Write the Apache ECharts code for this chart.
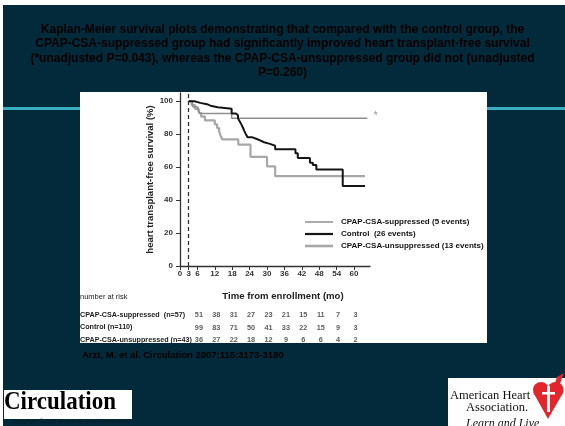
<!DOCTYPE html>
<html>
<head>
<meta charset="utf-8">
<script src="https://cdn.jsdelivr.net/npm/echarts@6/dist/echarts.min.js"></script>
<style>
  html, body { margin: 0; padding: 0; background: #022a3a; overflow: hidden; width: 100%; height: 100%; }
  #chart { width: 100%; height: 100%; min-width: 565px; min-height: 426px; }
</style>
</head>
<body>
<div id="chart"></div>
<script>
// Axis ticks
const xTicks = [0, 3, 6, 12, 18, 24, 30, 36, 42, 48, 54, 60];
const yTicks = [0, 20, 40, 60, 80, 100];

// Kaplan-Meier steps: [month, survival % after the event]
const suppressed = [[3, 100], [4.3, 98.2], [4.5, 96.5], [6.2, 94.7], [6.8, 92.5], [17.8, 89.6], [64.6, 89.6]];
const control = [[3, 100], [5, 99], [7, 98.2], [9.3, 97.3], [10.5, 96.4], [13, 95.5], [17.8, 92.5],
  [19.3, 91.5], [20, 89.6], [20.6, 87.7], [21.2, 85.8], [21.7, 83.9], [22.2, 81.9], [22.7, 80],
  [23.3, 78.1], [25, 77.1], [26.5, 76.1], [27.8, 75.1], [29, 74.1], [31, 73], [32.8, 70.8],
  [39.8, 68.4], [40.6, 65.5], [44.8, 62.6], [45.8, 61.3], [47, 58.5], [56.1, 48.5], [63.8, 48.5]];
const unsuppressed = [[3, 100], [4, 97.7], [5.2, 95.3], [6.5, 93], [7.3, 90.7], [8.6, 88.4], [12, 86],
  [12.8, 83.7], [13.5, 81.4], [14, 79.1], [14.6, 76.8], [20.1, 73.7], [24.3, 66.2], [30, 60.5],
  [32.8, 54.5], [63.8, 54.5]];

const seriesNames = ['CPAP-CSA-suppressed (5 events)', 'Control  (26 events)', 'CPAP-CSA-unsuppressed (13 events)'];

// Number at risk table
const riskMonths = [6, 12, 18, 24, 30, 36, 42, 48, 54, 60];
const riskRows = ['CPAP-CSA-suppressed  (n=57)', 'Control (n=110)', 'CPAP-CSA-unsuppressed (n=43)'];
const riskSuppressed = [51, 38, 31, 27, 23, 21, 15, 11, 7, 3];
const riskControl = [99, 83, 71, 50, 41, 33, 22, 15, 9, 3];
const riskUnsuppressed = [36, 27, 22, 18, 12, 9, 6, 6, 4, 2];

const titleLines = [
  'Kaplan-Meier survival plots demonstrating that compared with the control group, the',
  'CPAP-CSA-suppressed group had significantly improved heart transplant-free survival',
  '(*unadjusted P=0.043), whereas the CPAP-CSA-unsuppressed group did not (unadjusted',
  'P=0.260)'
];

const SANS = "'Liberation Sans', Arial, Helvetica, sans-serif";
const SERIF = "'Liberation Serif', 'Times New Roman', serif";

const colSup = '#8e8e8e', colCtl = '#151515', colUns = '#a8a8a8';

const chart = echarts.init(document.getElementById('chart'), null, { renderer: 'canvas' });

function riskSeries(values, row) {
  return {
    type: 'scatter',
    xAxisIndex: 1,
    yAxisIndex: 1,
    silent: true,
    symbolSize: 1,
    itemStyle: { color: 'rgba(0,0,0,0)' },
    data: riskMonths.map((m, i) => [m, row, values[i]]),
    label: {
      show: true,
      position: 'inside',
      offset: [1.5, 0],
      formatter: p => String(p.value[2]),
      fontFamily: SANS,
      fontSize: 7.3,
      fontWeight: 'bold',
      color: '#333'
    }
  };
}

// one legend block per curve so each key line keeps its own thickness
function legendRow(name, color, thickness, top) {
  return {
    data: [{ name: name, icon: 'rect', itemStyle: { color: color } }],
    left: 305,
    top: top,
    padding: 0,
    itemWidth: 28,
    itemHeight: thickness,
    selectedMode: false,
    textStyle: { fontFamily: SANS, fontSize: 8, fontWeight: 'bold', color: '#111', padding: [0, 0, 0, 3] }
  };
}

const option = {
  animation: false,
  backgroundColor: '#022a3a',
  title: {
    text: titleLines.join('\n'),
    left: 'center',
    top: 17,
    textStyle: {
      fontFamily: SANS,
      fontSize: 12,
      fontWeight: 'bold',
      color: '#000',
      lineHeight: 14.5
    }
  },
  legend: [
    legendRow(seriesNames[0], colSup, 1.5, 218),
    legendRow(seriesNames[1], colCtl, 2.2, 230),
    legendRow(seriesNames[2], colUns, 2.6, 242)
  ],
  grid: [
    { left: 180, width: 190, top: 93, height: 173 },
    { left: 180, width: 190, top: 309, height: 37 }
  ],
  xAxis: [
    {
      type: 'value', gridIndex: 0, min: 0, max: 65.5,
      splitLine: { show: false },
      axisLine: { lineStyle: { color: '#333', width: 1.3 } },
      axisTick: { customValues: xTicks, length: 4, lineStyle: { color: '#333', width: 1 } },
      axisLabel: { customValues: xTicks, margin: 4, fontFamily: SANS, fontSize: 8, fontWeight: 'bold', color: '#333' },
      name: 'Time from enrollment (mo)',
      nameLocation: 'middle',
      nameGap: 25,
      nameTextStyle: { fontFamily: SANS, fontSize: 9.6, fontWeight: 'bold', color: '#222', padding: [0, 0, 0, 16] }
    },
    { type: 'value', gridIndex: 1, min: 0, max: 65.5, show: false }
  ],
  yAxis: [
    {
      type: 'value', gridIndex: 0, min: 0, max: 105,
      splitLine: { show: false },
      axisLine: { show: true, lineStyle: { color: '#333', width: 1.3 } },
      axisTick: { show: true, customValues: yTicks, length: 4, lineStyle: { color: '#333', width: 1 } },
      axisLabel: { customValues: yTicks, margin: 7, fontFamily: SANS, fontSize: 8, fontWeight: 'bold', color: '#333' },
      name: 'heart transplant-free survival (%)',
      nameLocation: 'middle',
      nameRotate: 90,
      nameGap: 22,
      nameTextStyle: { fontFamily: SANS, fontSize: 9.5, fontWeight: 'bold', color: '#222' }
    },
    {
      type: 'category', gridIndex: 1, data: riskRows, inverse: true,
      axisLine: { show: false }, axisTick: { show: false }, splitLine: { show: false },
      axisLabel: { align: 'left', margin: 100, fontFamily: SANS, fontSize: 7.2, fontWeight: 'bold', color: '#222' }
    }
  ],
  series: [
    {
      name: seriesNames[0], type: 'line', step: 'end', symbol: 'none', silent: true, z: 3,
      lineStyle: { color: colSup, width: 1.5 },
      itemStyle: { color: colSup },
      data: suppressed,
      endLabel: { show: true, formatter: '*', distance: 6, offset: [0, -2], fontSize: 11, color: '#9a9a9a', fontFamily: SANS }
    },
    {
      name: seriesNames[1], type: 'line', step: 'end', symbol: 'none', silent: true, z: 4,
      lineStyle: { color: colCtl, width: 2 },
      itemStyle: { color: colCtl },
      data: control,
      markLine: {
        silent: true,
        symbol: 'none',
        label: { show: false },
        lineStyle: { type: [4, 3], color: '#333', width: 1.3 },
        data: [{ xAxis: 3 }]
      }
    },
    {
      name: seriesNames[2], type: 'line', step: 'end', symbol: 'none', silent: true, z: 2,
      lineStyle: { color: colUns, width: 2.2 },
      itemStyle: { color: colUns },
      data: unsuppressed
    },
    riskSeries(riskSuppressed, riskRows[0]),
    riskSeries(riskControl, riskRows[1]),
    riskSeries(riskUnsuppressed, riskRows[2])
  ],
  graphic: [
    // slide edges
    { type: 'rect', z: -20, shape: { x: 0, y: 0, width: 2000, height: 5 }, style: { fill: '#ffffff' } },
    { type: 'rect', z: -20, shape: { x: 0, y: 0, width: 3, height: 2000 }, style: { fill: '#ffffff' } },
    // cyan rule across the slide
    { type: 'rect', z: -19, shape: { x: 3, y: 107, width: 80, height: 3 }, style: { fill: '#38aebe' } },
    { type: 'rect', z: -19, shape: { x: 485, y: 107, width: 90, height: 3 }, style: { fill: '#38aebe' } },
    // white figure panel
    { type: 'rect', z: -10, shape: { x: 80, y: 92, width: 407, height: 251 }, style: { fill: '#ffffff' } },
    {
      type: 'text', z: 5, x: 80, y: 293,
      style: { text: 'number at risk', fontFamily: SANS, fontSize: 7.5, fill: '#222' }
    },
    // citation
    {
      type: 'text', z: 5, x: 82, y: 350,
      style: { text: 'Arzt, M. et al. Circulation 2007;115:3173-3180', fontFamily: SANS, fontSize: 9.5, fontWeight: 'bold', fill: '#000' }
    },
    // journal logo
    { type: 'rect', z: 1, shape: { x: 4, y: 390, width: 128, height: 29 }, style: { fill: '#ffffff' } },
    {
      type: 'text', z: 5, x: 4, y: 389, scaleY: 1.12,
      style: { text: 'Circulation', fontFamily: SERIF, fontSize: 23, fontWeight: 'bold', fill: '#000' }
    },
    {
      type: 'text', z: 5, x: 13, y: 418,
      style: { text: 'Copyright \u00A92007 American Heart Association', fontFamily: SANS, fontSize: 5.8, fill: '#0c1a20' }
    },
    // association logo
    { type: 'rect', z: 1, shape: { x: 448, y: 378, width: 130, height: 60 }, style: { fill: '#ffffff' } },
    {
      type: 'text', z: 5, x: 450, y: 389,
      style: { text: 'American Heart', fontFamily: SERIF, fontSize: 12.5, fill: '#111' }
    },
    {
      type: 'text', z: 5, x: 466, y: 401,
      style: { text: 'Association.', fontFamily: SERIF, fontSize: 12.5, fill: '#111' }
    },
    {
      type: 'text', z: 5, x: 466, y: 418,
      style: { text: 'Learn and Live', fontFamily: SERIF, fontSize: 12, fontStyle: 'italic', fill: '#111' }
    },
    { type: 'circle', z: 5, shape: { cx: 541, cy: 390, r: 8 }, style: { fill: '#e3262b' } },
    { type: 'circle', z: 5, shape: { cx: 555.5, cy: 390, r: 8 }, style: { fill: '#e3262b' } },
    { type: 'polygon', z: 5, shape: { points: [[533.3, 392.5], [563.2, 392.5], [548, 419]] }, style: { fill: '#e3262b' } },
    { type: 'polygon', z: 5, shape: { points: [[555, 383], [557, 377], [564, 373], [562, 378], [560, 384]] }, style: { fill: '#e3262b' } },
    { type: 'rect', z: 6, shape: { x: 547, y: 386, width: 3, height: 26 }, style: { fill: '#ffffff' } },
    { type: 'rect', z: 6, shape: { x: 542, y: 392, width: 13, height: 2.5 }, style: { fill: '#ffffff' } }
  ]
};

chart.setOption(option);
window.addEventListener('resize', () => chart.resize());
</script>
</body>
</html>
